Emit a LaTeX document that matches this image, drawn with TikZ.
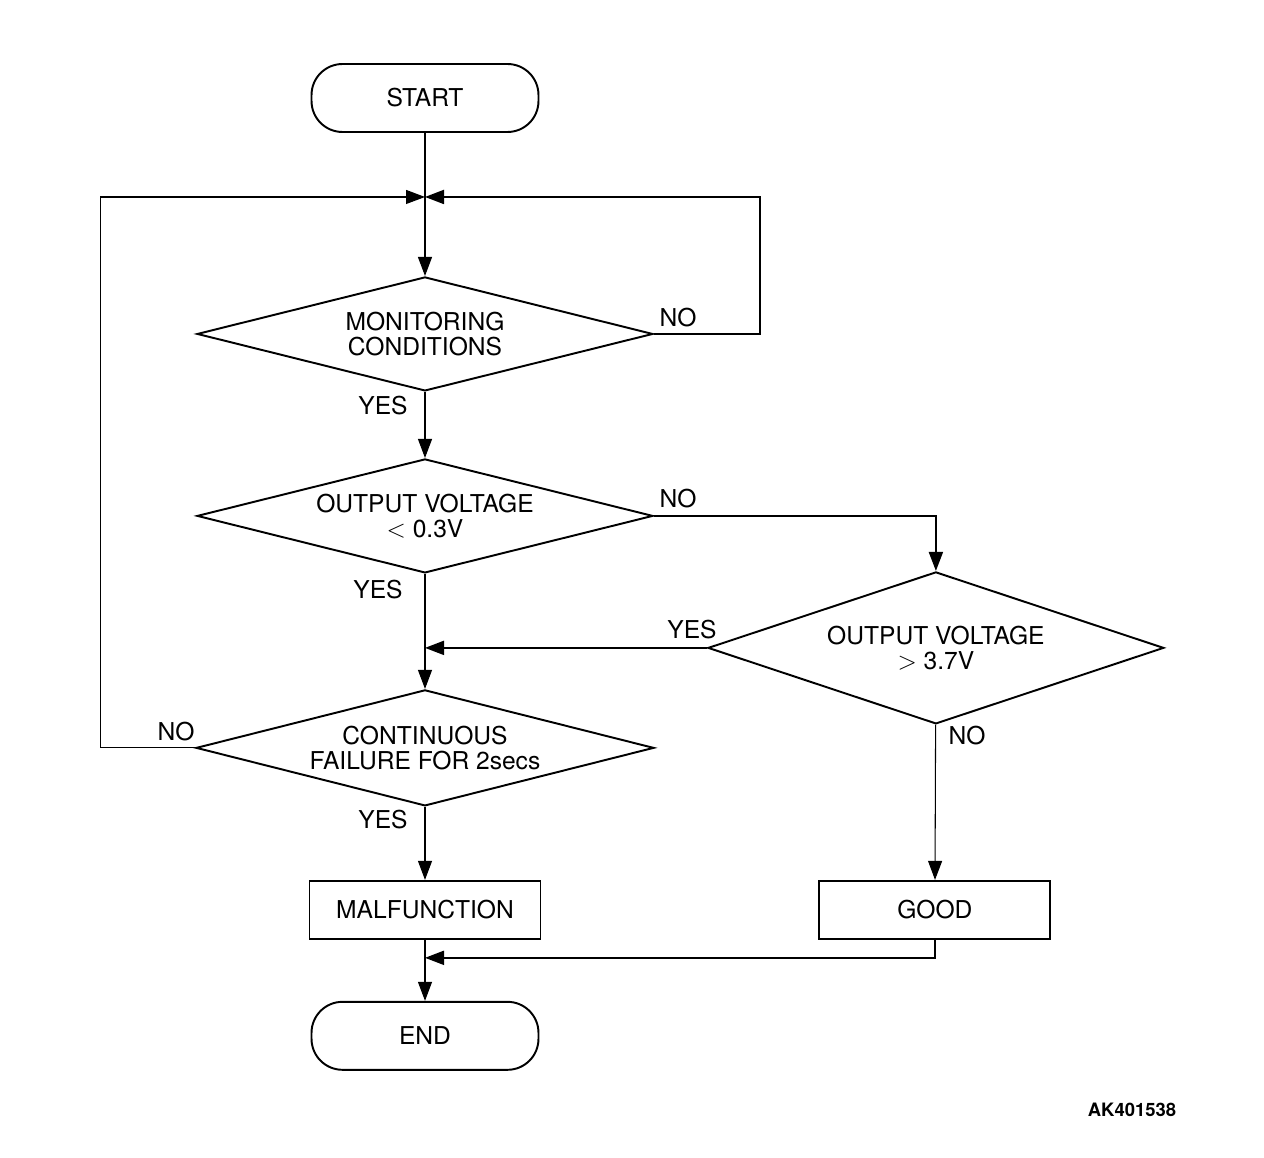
\documentclass[tikz,border=0pt]{standalone}
\usepackage{fontspec}
\setmainfont{TeX Gyre Heros}
\usetikzlibrary{shapes,arrows.meta,positioning,calc}
\tikzset{
term/.style = {draw, line width=1.1pt, rectangle, rounded corners=0.62cm, minimum width=4.54cm, minimum height=1.36cm},
block/.style = {draw, line width=1.1pt, rectangle, minimum width=4.62cm, minimum height=1.16cm},
decision/.style = {draw, line width=1.1pt, diamond, aspect=4, inner sep=0pt, minimum width=9.12cm, minimum height=2.28cm, align=center},
tmp/.style = {coordinate},
lbl/.style = {inner sep=0pt},
thinline/.style = {line width=0.6pt},
thickline/.style = {line width=1.1pt}
}

\begin{document}
\begin{tikzpicture}[x=0.02cm, y=-0.02cm, node distance=2cm, >={Triangle[length=0.38cm,width=0.28cm]}, font=\fontsize{14}{14.5}\selectfont]
  \useasboundingbox (0,0) rectangle (1264,1158);

  \node [term] at (425,98)                                          (start) {START};
  \node [tmp, below of=start, node distance=1.98cm]                 (join1) {};
  \node [decision, below of=start, node distance=4.72cm]            (mon)   {MONITORING\\CONDITIONS};
  \node [tmp, right of=mon, node distance=6.7cm]                    (tmp1)  {};
  \node [decision, below of=mon, node distance=3.64cm]              (low)   {OUTPUT VOLTAGE\\$<$ 0.3V};
  \node [tmp, right of=low, node distance=10.22cm]                  (tmp2)  {};
  \node [decision, below of=tmp2, node distance=2.64cm, aspect=3, minimum height=3.04cm] (high) {OUTPUT VOLTAGE\\$>$ 3.7V};
  \node [tmp, below of=low, node distance=2.64cm]                   (join2) {};
  \node [decision, below of=low, node distance=4.64cm, aspect=3.95, minimum width=9.16cm, minimum height=2.32cm] (cont) {CONTINUOUS\\FAILURE FOR 2secs};
  \node [tmp, left of=cont, node distance=6.5cm]                    (tmp3)  {};
  \node [block, below of=cont, node distance=3.24cm]                (malf)  {MALFUNCTION};
  \node [block, right of=malf, node distance=10.2cm]                (good)  {GOOD};
  \node [tmp, below of=good, node distance=0.96cm]                  (tmp4)  {};
  \node [tmp, below of=malf, node distance=0.96cm]                  (join3) {};
  \node [term, below of=malf, node distance=2.52cm]                 (end)   {END};

  % branch labels
  \node [lbl] at (678,318)  (mon-no)   {NO};
  \node [lbl] at (383,406)  (mon-yes)  {YES};
  \node [lbl] at (678,499)  (low-no)   {NO};
  \node [lbl] at (378,590)  (low-yes)  {YES};
  \node [lbl] at (692,630)  (high-yes) {YES};
  \node [lbl] at (967,736)  (high-no)  {NO};
  \node [lbl] at (176,732)  (cont-no)  {NO};
  \node [lbl] at (383,820)  (cont-yes) {YES};
  \node [lbl, font=\fontsize{10.5}{12}\selectfont\bfseries] at (1132,1110) (code) {AK401538};

  \draw [thinline] (start) -- (join1);
  \draw [thinline, ->] (join1) -- (mon);
  \draw [thickline, ->] (mon.east) -- (tmp1) |- (join1);
  \draw [thinline, ->] (mon) -- (low);
  \draw [thickline, ->] (low.east) -- (tmp2) -- (high);
  \draw [thinline, ->] (low) -- (cont);
  \draw [thickline, ->] (high.west) -- (join2);
  \draw [thinline, ->] (cont.west) -- (tmp3) |- (join1);
  \draw [thinline, ->] (cont) -- (malf);
  \draw [thinline, ->] (high) -- (good);
  \draw [thinline, ->] (malf) -- (end);
  \draw [thickline, ->] (good) -- (tmp4) -- (join3);
\end{tikzpicture}
\end{document}
